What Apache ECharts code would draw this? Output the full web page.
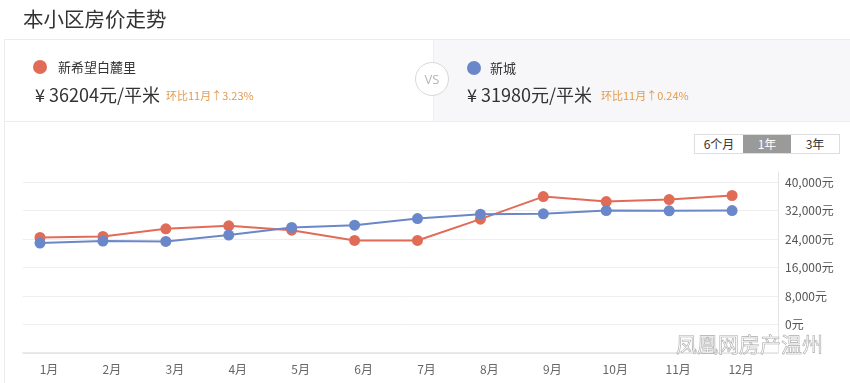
<!DOCTYPE html>
<html>
<head>
<meta charset="utf-8">
<script src="https://cdn.jsdelivr.net/npm/echarts@6/dist/echarts.min.js"></script>
<style>
  html, body { margin: 0; padding: 0; background: #fff; }
  body { width: 850px; height: 383px; position: relative; overflow: hidden;
         font-family: "Noto Sans CJK SC", "Noto Sans", sans-serif; color: #333; }
  #chart { position: absolute; left: 0; top: 0; width: 850px; height: 383px; }
  .abs { position: absolute; white-space: nowrap; }
  #title { left: 23px; top: 3px; font-size: 20.5px; color: #333; line-height: 30px; }
  #card { left: 4px; top: 39px; width: 860px; height: 360px; border: 1px solid #ececec; box-sizing: border-box; }
  #hdrline { left: 4px; top: 121px; width: 846px; height: 1px; background: #ececec; }
  #rightpanel { left: 433px; top: 40px; width: 417px; height: 81px; background: #f7f7f9; border-left: 1px solid #eee; }
  .dot { width: 14px; height: 14px; border-radius: 50%; }
  .name { font-size: 13px; color: #333; line-height: 16px; }
  .price { font-size: 18px; color: #333; line-height: 22px; }
  .chg { font-size: 11px; color: #e39a4e; line-height: 14px; }
  #vs { left: 415px; top: 62px; width: 34px; height: 34px; border-radius: 50%; border: 1px solid #d8d8d8;
        background: #fff; box-sizing: border-box; text-align: center; line-height: 32px; font-size: 13px; color: #b5b5b5;
        font-family: "Open Sans", sans-serif; }
  #btns { left: 694px; top: 134px; width: 146px; height: 20px; border: 1px solid #ddd; box-sizing: border-box; display: flex; background: #fff; }
  #btns div { flex: 1; text-align: center; font-size: 12px; line-height: 18px; color: #333; }
  #btns div.on { background: #9a9a9a; color: #fff; }
  #wm { left: 676px; top: 328px; font-size: 21px; color: rgba(255,255,255,0.9); -webkit-text-stroke: 0.6px #aaa; }
</style>
</head>
<body>
<div id="chart"></div>
<div class="abs" id="title">本小区房价走势</div>
<div class="abs" id="card"></div>
<div class="abs" id="rightpanel"></div>
<div class="abs" id="hdrline"></div>
<div class="abs dot" style="left:33px;top:60px;background:#e06c58;"></div>
<div class="abs name" style="left:58px;top:59px;">新希望白麓里</div>
<div class="abs price" style="left:35px;top:83px;">¥ 36204元/平米</div>
<div class="abs chg" style="left:166px;top:88px;">环比11月↑3.23%</div>
<div class="abs" id="vs">VS</div>
<div class="abs dot" style="left:467px;top:61px;background:#6a87c9;"></div>
<div class="abs name" style="left:490px;top:60px;">新城</div>
<div class="abs price" style="left:467px;top:83px;">¥ 31980元/平米</div>
<div class="abs chg" style="left:601px;top:88px;">环比11月↑0.24%</div>
<div class="abs" id="btns"><div>6个月</div><div class="on">1年</div><div>3年</div></div>
<div class="abs" id="wm">凤凰网房产温州</div>
<script>
const months = ['1月','2月','3月','4月','5月','6月','7月','8月','9月','10月','11月','12月'];
const xinxiwang = [24420, 24700, 26850, 27690, 26480, 23580, 23580, 29560, 35890, 34490, 35071, 36204];
const xincheng  = [22850, 23400, 23300, 25090, 27220, 27880, 29740, 30960, 31050, 31980, 31903, 31980];
const yTicks = [0, 8000, 16000, 24000, 32000, 40000];

const chart = echarts.init(document.getElementById('chart'), null, { renderer: 'canvas' });
const font = '"Noto Sans CJK SC", "Noto Sans", sans-serif';
chart.setOption({
  animation: false,
  textStyle: { fontFamily: font },
  grid: { left: 23, right: 72, top: 172, bottom: 30, containLabel: false },
  xAxis: {
    type: 'value', min: -0.27, max: 11.73,
    axisLine: { show: true, onZero: false, lineStyle: { color: '#e3e3e3', width: 1.5 } },
    axisTick: { show: false },
    splitLine: { show: false },
    axisLabel: {
      customValues: months.map((m, i) => i),
      formatter: v => months[Math.round(v)] || '',
      color: '#666', fontSize: 12, margin: 10, padding: [0, 0, 0, 18], fontFamily: font
    }
  },
  yAxis: {
    type: 'value', position: 'right', min: -8000, max: 42800, interval: 8000,
    axisLine: { show: true, onZero: false, lineStyle: { color: '#e3e3e3' } },
    axisTick: { show: false },
    splitLine: { show: true, showMaxLine: false, lineStyle: { color: '#eeeeee' } },
    axisLabel: {
      color: '#555', fontSize: 12, margin: 7, fontFamily: font,
      customValues: yTicks,
      formatter: v => (yTicks.indexOf(v) >= 0 ? v.toLocaleString('en-US') + '元' : '')
    }
  },
  series: [
    { name: '新希望白麓里', type: 'line', data: xinxiwang.map((v, i) => [i, v]),
      symbol: 'circle', symbolSize: 11, itemStyle: { color: '#e06c58' },
      lineStyle: { color: '#e06c58', width: 2 } },
    { name: '新城', type: 'line', data: xincheng.map((v, i) => [i, v]),
      symbol: 'circle', symbolSize: 11, itemStyle: { color: '#6a87c9' },
      lineStyle: { color: '#6a87c9', width: 2 } }
  ]
});
</script>
</body>
</html>
